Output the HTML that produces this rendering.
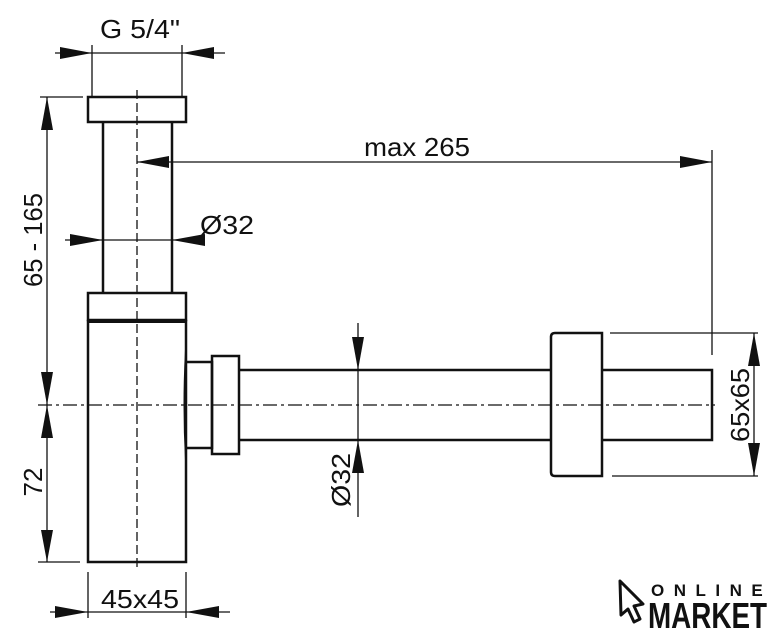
<!DOCTYPE html>
<html><head><meta charset="utf-8"><style>
html,body{margin:0;padding:0;background:#fff;}
svg{display:block;}
text{font-family:"Liberation Sans",Arial,sans-serif;fill:#111;}
</style></head><body>
<svg width="781" height="640" viewBox="0 0 781 640" xmlns="http://www.w3.org/2000/svg">
<g stroke="#111" fill="none" stroke-width="2.5">
<rect x="88" y="97" width="98" height="25"/>
<line x1="103" y1="122" x2="103" y2="293"/>
<line x1="172" y1="122" x2="172" y2="293"/>
<rect x="88" y="293" width="98" height="27"/>
<line x1="88" y1="321" x2="186" y2="321" stroke-width="4"/>
<rect x="88" y="321" width="98" height="241"/>
<path d="M186 362 L212 362 L212 448 L186 448"/>
<path d="M186 350 Q183 405 186 460" stroke-width="2"/>
<rect x="212" y="356" width="27" height="98"/>
<line x1="239" y1="370" x2="551" y2="370"/>
<line x1="239" y1="440" x2="551" y2="440"/>
<path d="M555 333 L602 333 L602 476 L555 476 Q551 476 551 472 L551 337 Q551 333 555 333Z"/>
<path d="M602 370 L712 370 L712 440 L602 440"/>
</g>
<g stroke="#111" fill="none" stroke-width="1.3">
<line x1="137" y1="90" x2="137" y2="570" stroke-dasharray="9,4"/>
<line x1="38" y1="405" x2="715" y2="405" stroke-dasharray="14,4,3,4"/>
<line x1="92" y1="45" x2="92" y2="97"/>
<line x1="182" y1="45" x2="182" y2="97"/>
<line x1="55" y1="53" x2="225" y2="53"/>
<line x1="137" y1="162" x2="712" y2="162"/>
<line x1="712" y1="150" x2="712" y2="355"/>
<line x1="65" y1="240" x2="205" y2="240"/>
<line x1="47" y1="97" x2="47" y2="562"/>
<line x1="40" y1="97" x2="83" y2="97"/>
<line x1="38" y1="562" x2="80" y2="562"/>
<line x1="358" y1="323" x2="358" y2="517"/>
<line x1="610" y1="333" x2="758" y2="333"/>
<line x1="612" y1="476" x2="758" y2="476"/>
<line x1="754" y1="333" x2="754" y2="476"/>
<line x1="88" y1="572" x2="88" y2="618"/>
<line x1="186" y1="572" x2="186" y2="618"/>
<line x1="50" y1="612" x2="230" y2="612"/>
</g>
<g fill="#111">
<polygon points="92,53 60,47 60,59"/>
<polygon points="182,53 214,47 214,59"/>
<polygon points="137,162 169,156 169,168"/>
<polygon points="712,162 680,156 680,168"/>
<polygon points="103,240 70,234 70,246"/>
<polygon points="172,240 205,234 205,246"/>
<polygon points="47,97 41,130 53,130"/>
<polygon points="47,405 41,372 53,372"/>
<polygon points="47,405 41,438 53,438"/>
<polygon points="47,562 41,530 53,530"/>
<polygon points="358,370 352,337 364,337"/>
<polygon points="358,440 352,473 364,473"/>
<polygon points="754,333 748,366 760,366"/>
<polygon points="754,476 748,443 760,443"/>
<polygon points="88,612 55,606 55,618"/>
<polygon points="186,612 219,606 219,618"/>
</g>
<g font-size="26">
<text x="100" y="38" textLength="80" lengthAdjust="spacingAndGlyphs">G 5/4"</text>
<text x="364" y="156" textLength="106" lengthAdjust="spacingAndGlyphs">max 265</text>
<text x="200" y="234" textLength="54" lengthAdjust="spacingAndGlyphs">Ø32</text>
<text x="101" y="608" textLength="78" lengthAdjust="spacingAndGlyphs">45x45</text>
<text transform="translate(42,240) rotate(-90)" x="-47" textLength="94" lengthAdjust="spacingAndGlyphs">65 - 165</text>
<text transform="translate(42,482) rotate(-90)" text-anchor="middle">72</text>
<text transform="translate(350,480) rotate(-90)" x="-27" textLength="54" lengthAdjust="spacingAndGlyphs">Ø32</text>
<text transform="translate(749,405) rotate(-90)" x="-37" textLength="74" lengthAdjust="spacingAndGlyphs">65x65</text>
</g>
<path d="M620 581 L643 604 L634 606 L640 619 L634 622 L628 609 L621 615 Z" fill="#fff" stroke="#111" stroke-width="3" stroke-linejoin="round"/>
<text x="651" y="596" font-size="17" font-weight="bold" letter-spacing="9.5">ONLINE</text>
<text x="648" y="628" font-size="36" font-weight="bold" textLength="119" lengthAdjust="spacingAndGlyphs">MARKET</text>
</svg>
</body></html>
